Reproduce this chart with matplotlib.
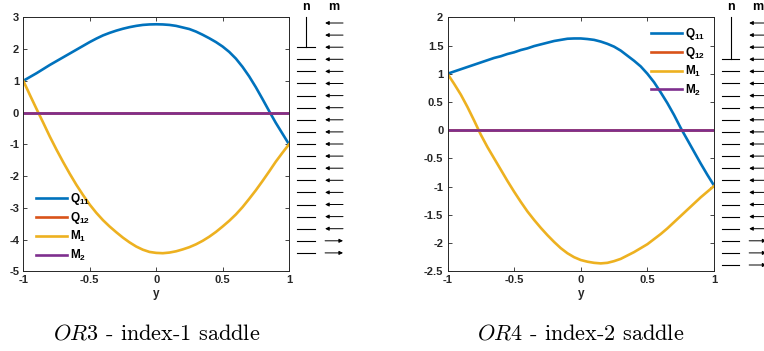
import matplotlib
matplotlib.use("Agg")
import matplotlib.pyplot as plt

plt.rcParams['font.family'] = ['Liberation Sans', 'DejaVu Sans']
plt.rcParams['axes.unicode_minus'] = False
plt.rcParams['mathtext.fontset'] = 'custom'
plt.rcParams['mathtext.rm'] = 'Liberation Sans:bold'
plt.rcParams['mathtext.bf'] = 'Liberation Sans:bold'
plt.rcParams['mathtext.it'] = 'Liberation Sans:bold'

# eje y (coordenada) comun, paso 0.05
y_grid = [-1.0, -0.95, -0.9, -0.85, -0.8, -0.75, -0.7, -0.65, -0.6, -0.55, -0.5,
          -0.45, -0.4, -0.35, -0.3, -0.25, -0.2, -0.15, -0.1, -0.05, 0.0,
          0.05, 0.1, 0.15, 0.2, 0.25, 0.3, 0.35, 0.4, 0.45, 0.5,
          0.55, 0.6, 0.65, 0.7, 0.75, 0.8, 0.85, 0.9, 0.95, 1.0]

# ---- datos OR3 (index-1 saddle) ----
or3_q11 = [1.0, 1.12, 1.24, 1.37, 1.5, 1.62, 1.74, 1.86, 1.98, 2.1, 2.22,
           2.33, 2.43, 2.51, 2.58, 2.64, 2.69, 2.73, 2.76, 2.775, 2.78,
           2.775, 2.76, 2.73, 2.68, 2.63, 2.55, 2.45, 2.34, 2.22, 2.08,
           1.91, 1.7, 1.44, 1.14, 0.8, 0.43, 0.05, -0.32, -0.66, -1.0]
or3_m1 = [1.0, 0.55, 0.11, -0.32, -0.76, -1.17, -1.56, -1.93, -2.28, -2.6, -2.9,
          -3.16, -3.39, -3.59, -3.77, -3.94, -4.09, -4.22, -4.32, -4.39, -4.42,
          -4.43, -4.41, -4.37, -4.31, -4.24, -4.15, -4.04, -3.91, -3.76, -3.59,
          -3.41, -3.21, -2.98, -2.72, -2.45, -2.16, -1.86, -1.55, -1.27, -1.0]
or3_zero_y = [-1.0, 1.0]
or3_q12 = [0.0, 0.0]
or3_m2 = [0.0, 0.0]
or3_m_dirs = [-1] * 18 + [1] * 2   # flechas columna m
or3_n_stem = 3                     # fila donde termina el tallo de n

# ---- datos OR4 (index-2 saddle) ----
or4_q11 = [1.0, 1.04, 1.08, 1.12, 1.16, 1.2, 1.24, 1.28, 1.31, 1.35, 1.38,
           1.42, 1.45, 1.49, 1.52, 1.55, 1.58, 1.6, 1.62, 1.625, 1.625,
           1.615, 1.6, 1.57, 1.53, 1.48, 1.41, 1.32, 1.23, 1.13, 1.0,
           0.85, 0.67, 0.48, 0.27, 0.04, -0.17, -0.38, -0.59, -0.79, -0.98]
or4_m1 = [1.0, 0.82, 0.63, 0.41, 0.17, -0.08, -0.3, -0.5, -0.7, -0.9, -1.09,
          -1.27, -1.44, -1.59, -1.73, -1.86, -1.98, -2.09, -2.18, -2.25, -2.3,
          -2.33, -2.35, -2.36, -2.35, -2.32, -2.28, -2.22, -2.16, -2.09, -2.02,
          -1.93, -1.84, -1.74, -1.63, -1.52, -1.41, -1.3, -1.19, -1.09, -0.99]
or4_zero_y = [-1.0, 1.0]
or4_q12 = [0.0, 0.0]
or4_m2 = [0.0, 0.0]
or4_m_dirs = [-1] * 18 + [1] * 3
or4_n_stem = 4

xticks = [-1, -0.5, 0, 0.5, 1]
xtick_labels = ['-1', '-0.5', '0', '0.5', '1']
or3_yticks = [-5, -4, -3, -2, -1, 0, 1, 2, 3]
or3_ytick_labels = ['-5', '-4', '-3', '-2', '-1', '0', '1', '2', '3']
or4_yticks = [-2.5, -2, -1.5, -1, -0.5, 0, 0.5, 1, 1.5, 2]
or4_ytick_labels = ['-2.5', '-2', '-1.5', '-1', '-0.5', '0', '0.5', '1', '1.5', '2']

labels = [r'$\mathbf{Q_{11}}$', r'$\mathbf{Q_{12}}$', r'$\mathbf{M_{1}}$', r'$\mathbf{M_{2}}$']
colores = ['#0072BD', '#D95319', '#EDB120', '#7E2F8E']

W, H = 764, 351
fig = plt.figure(figsize=(W / 100, H / 100), dpi=100)


def rect(x0, y0, x1, y1):
    # pixeles (desde arriba) -> fracciones de figura
    return [x0 / W, 1 - y1 / H, (x1 - x0) / W, (y1 - y0) / H]


def panel(r, q11, zx, q12, m1, m2, yticks, ylabels, ylim, legloc, anchor):
    ax = fig.add_axes(r)
    ax.plot(y_grid, q11, color=colores[0], lw=1.9, label=labels[0])
    ax.plot(zx, q12, color=colores[1], lw=1.9, label=labels[1])
    ax.plot(y_grid, m1, color=colores[2], lw=1.9, label=labels[2])
    ax.plot(zx, m2, color=colores[3], lw=1.9, label=labels[3])
    ax.set_xlim(-1, 1)
    ax.set_ylim(*ylim)
    ax.set_xticks(xticks)
    ax.set_xticklabels(xtick_labels)
    ax.set_yticks(yticks)
    ax.set_yticklabels(ylabels)
    ax.tick_params(direction='in', top=True, right=True, length=3, width=0.6,
                   labelsize=8, colors='#262626', pad=3)
    for lab in ax.get_xticklabels() + ax.get_yticklabels():
        lab.set_fontweight('bold')
    for s in ax.spines.values():
        s.set_color('#262626')
        s.set_linewidth(0.7)
    ax.set_xlabel('y', fontsize=8.5, fontweight='bold', color='#262626', labelpad=2)
    ax.legend(loc=legloc, bbox_to_anchor=anchor, frameon=False, fontsize=8.5,
              handlelength=2.6, handletextpad=0.25, labelspacing=0.27,
              borderaxespad=0)
    return ax


def side(r, m_dirs, n_stem, xl):
    ax = fig.add_axes(r)
    n = len(m_dirs)
    top_px = 23
    sp = 12.1
    h_px = r[3] * H
    ax.set_ylim(1 + (h_px - top_px) / sp, 1 - top_px / sp)
    ax.set_xlim(*xl)
    ax.axis('off')
    filas = list(range(1, n + 1))
    ax.plot([0, 0], [1 - 6 / sp, n_stem], color='black', lw=0.8, clip_on=False)
    for f in filas:
        if f >= n_stem:
            ax.plot([-0.32, 0.32], [f, f], color='black', lw=0.8, clip_on=False)
        d = m_dirs[f - 1]
        x0, x1 = (1.32, 0.68) if d < 0 else (0.68, 1.32)
        ax.annotate('', xy=(x1, f), xytext=(x0, f), annotation_clip=False,
                    arrowprops=dict(arrowstyle='-|>', lw=0.7, color='black',
                                    mutation_scale=5.5, shrinkA=0, shrinkB=0))
    ax.text(0, 1 - 16 / sp, 'n', ha='center', va='center', fontsize=9, fontweight='bold')
    ax.text(1, 1 - 16 / sp, 'm', ha='center', va='center', fontsize=9, fontweight='bold')


panel(rect(23.3, 17.3, 289, 271.3), or3_q11, or3_zero_y, or3_q12,
      or3_m1, or3_m2, or3_yticks, or3_ytick_labels, (-5, 3),
      'lower left', (0.03, 0.015))
panel(rect(447.5, 17.3, 714, 271.3), or4_q11, or4_zero_y, or4_q12,
      or4_m1, or4_m2, or4_yticks, or4_ytick_labels, (-2.5, 2),
      'upper right', (0.985, 0.985))

side(rect(292, 0, 352, 275), or3_m_dirs, or3_n_stem, (-0.5, 1.64))
side(rect(716, 0, 764, 275), or4_m_dirs, or4_n_stem, (-0.55, 1.23))

fig.text(0.205, 0.05, '$OR3$ - index-1 saddle', ha='center', va='center',
         fontsize=16, family='cmr10', math_fontfamily='cm')
fig.text(0.76, 0.05, '$OR4$ - index-2 saddle', ha='center', va='center',
         fontsize=16, family='cmr10', math_fontfamily='cm')

fig.savefig('out.png', dpi=100)
